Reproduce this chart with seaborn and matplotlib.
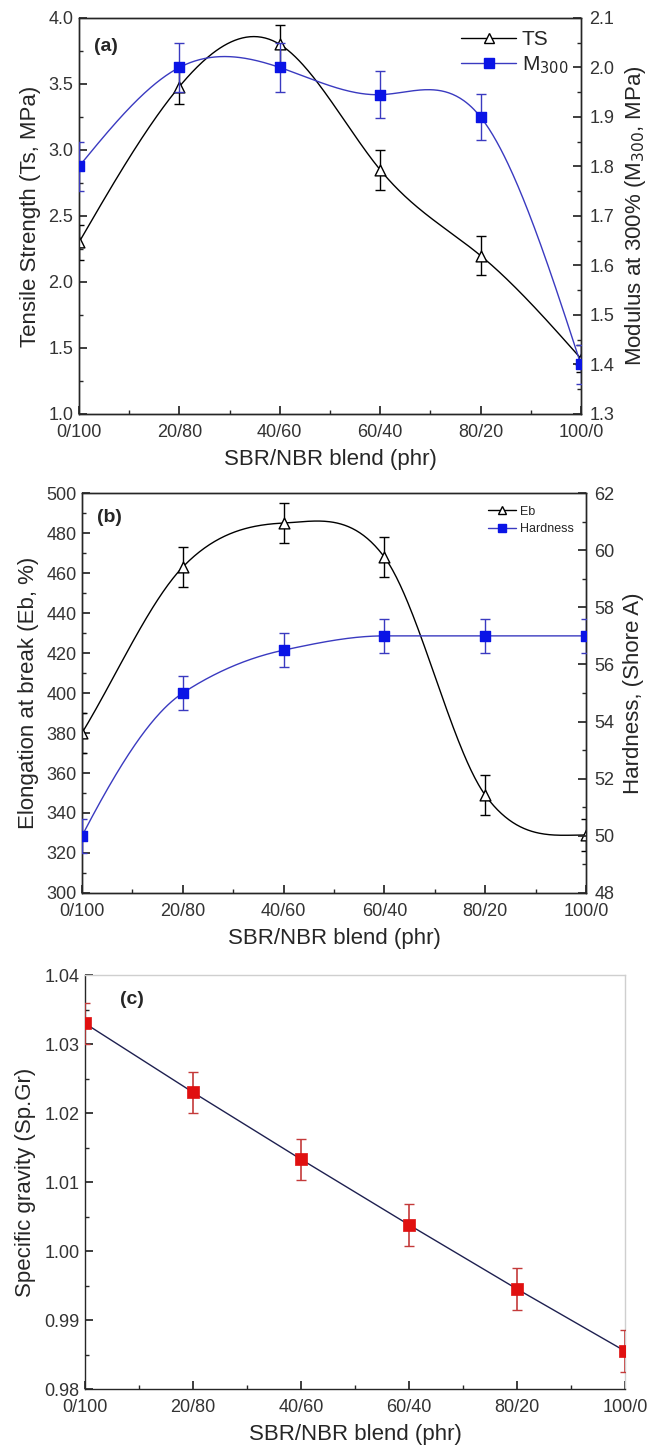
import numpy as np
import pandas as pd
import matplotlib
matplotlib.use("Agg")
import matplotlib.pyplot as plt
from matplotlib.lines import Line2D
from matplotlib.ticker import MultipleLocator, FormatStrFormatter
import seaborn as sns

# ---- data -------------------------------------------------------------
blend_pos = [0, 20, 40, 60, 80, 100]
blend_labels = ["0/100", "20/80", "40/60", "60/40", "80/20", "100/0"]

ts = [2.30, 3.48, 3.80, 2.85, 2.20, 1.42]
ts_err = [0.13, 0.13, 0.15, 0.15, 0.15, 0.10]
m300 = [1.80, 2.00, 2.00, 1.945, 1.90, 1.40]
m300_err = [0.05, 0.05, 0.05, 0.047, 0.047, 0.04]

eb = [380, 463, 485, 468, 349, 329]
eb_err = [10, 10, 10, 10, 10, 8]
hardness = [50.0, 55.0, 56.5, 57.0, 57.0, 57.0]
hardness_err = [0.6, 0.6, 0.6, 0.6, 0.6, 0.6]

spgr = [1.0330, 1.0230, 1.0133, 1.0038, 0.9945, 0.9855]
spgr_err = [0.003, 0.003, 0.003, 0.003, 0.003, 0.003]

# ---- style ------------------------------------------------------------
sns.set_theme(style="ticks")
plt.rcParams["font.family"] = ["Liberation Sans", "DejaVu Sans"]
plt.rcParams["xtick.direction"] = "in"
plt.rcParams["ytick.direction"] = "in"
plt.rcParams["axes.linewidth"] = 1.0

BLUE_LINE = "#3a3ac0"
BLUE = "#0a14e6"
RED = "#e01010"
RED_ERR = "#c43a3a"
NAVY = "#1e2050"
TEXT = "#333333"
TICK_FS = 13
LABEL_FS = 16


def hermite(x, y, m, num=400):
    """Evaluate a cubic Hermite curve with node slopes m."""
    x = np.asarray(x, float)
    y = np.asarray(y, float)
    h = np.diff(x)
    xs = np.linspace(x[0], x[-1], num)
    idx = np.clip(np.searchsorted(x, xs) - 1, 0, len(x) - 2)
    t = (xs - x[idx]) / h[idx]
    h00 = 2 * t ** 3 - 3 * t ** 2 + 1
    h10 = t ** 3 - 2 * t ** 2 + t
    h01 = -2 * t ** 3 + 3 * t ** 2
    h11 = t ** 3 - t ** 2
    ys = (h00 * y[idx] + h10 * h[idx] * m[idx]
          + h01 * y[idx + 1] + h11 * h[idx] * m[idx + 1])
    return pd.DataFrame({"x": xs, "y": ys})


def natural_spline(x, y, num=400):
    """Natural cubic spline through the points."""
    x = np.asarray(x, float)
    y = np.asarray(y, float)
    n = len(x)
    h = np.diff(x)
    A = np.zeros((n, n))
    b = np.zeros(n)
    A[0, 0] = A[-1, -1] = 1.0
    for i in range(1, n - 1):
        A[i, i - 1] = h[i - 1]
        A[i, i] = 2 * (h[i - 1] + h[i])
        A[i, i + 1] = h[i]
        b[i] = 6 * ((y[i + 1] - y[i]) / h[i] - (y[i] - y[i - 1]) / h[i - 1])
    M = np.linalg.solve(A, b)
    xs = np.linspace(x[0], x[-1], num)
    idx = np.clip(np.searchsorted(x, xs) - 1, 0, n - 2)
    x0, x1 = x[idx], x[idx + 1]
    hh = x1 - x0
    t0 = x1 - xs
    t1 = xs - x0
    ys = (M[idx] * t0 ** 3 / (6 * hh) + M[idx + 1] * t1 ** 3 / (6 * hh)
          + (y[idx] - M[idx] * hh ** 2 / 6) * t0 / hh
          + (y[idx + 1] - M[idx + 1] * hh ** 2 / 6) * t1 / hh)
    return pd.DataFrame({"x": xs, "y": ys})


def cardinal(x, y):
    """Catmull-Rom style curve, levelling off at the right end."""
    x = np.asarray(x, float)
    y = np.asarray(y, float)
    m = np.zeros(len(x))
    m[1:-1] = (y[2:] - y[:-2]) / (x[2:] - x[:-2])
    m[0] = (y[1] - y[0]) / (x[1] - x[0])
    m[-1] = 0.0
    return hermite(x, y, m)


def pchip(x, y):
    """Shape-preserving cubic Hermite curve through the points."""
    x = np.asarray(x, float)
    y = np.asarray(y, float)
    n = len(x)
    h = np.diff(x)
    d = np.diff(y) / h
    m = np.zeros(n)
    for k in range(1, n - 1):
        if d[k - 1] * d[k] > 0:
            w1 = 2 * h[k] + h[k - 1]
            w2 = h[k] + 2 * h[k - 1]
            m[k] = (w1 + w2) / (w1 / d[k - 1] + w2 / d[k])
    m[0] = ((2 * h[0] + h[1]) * d[0] - h[0] * d[1]) / (h[0] + h[1])
    if np.sign(m[0]) != np.sign(d[0]):
        m[0] = 0.0
    m[-1] = ((2 * h[-1] + h[-2]) * d[-1] - h[-1] * d[-2]) / (h[-1] + h[-2])
    if np.sign(m[-1]) != np.sign(d[-1]):
        m[-1] = 0.0
    return hermite(x, y, m)


def style_x(ax):
    ax.set_xlim(0, 100)
    ax.set_xticks(blend_pos)
    ax.set_xticklabels(blend_labels)
    ax.xaxis.set_minor_locator(MultipleLocator(10))
    ax.set_xlabel("SBR/NBR blend (phr)", fontsize=LABEL_FS, labelpad=6)
    ax.tick_params(axis="both", which="major", length=6, labelsize=TICK_FS,
                   pad=4, labelcolor=TEXT)
    ax.tick_params(axis="both", which="minor", length=3)
    ax.tick_params(axis="x", which="major", pad=7)


def style_right(ax):
    ax.tick_params(axis="y", which="major", length=6, labelsize=TICK_FS,
                   pad=6, labelcolor=TEXT)
    ax.tick_params(axis="y", which="minor", length=3)


def series(ax, y, err, line_color, mk_color, marker, face, msize, smooth):
    df = pd.DataFrame({"x": blend_pos, "y": y})
    sm = smooth(blend_pos, y)
    sns.lineplot(data=sm, x="x", y="y", ax=ax, color=line_color, lw=1.0,
                 estimator=None, sort=False)
    ax.errorbar(blend_pos, y, yerr=err, fmt="none", ecolor=line_color,
                elinewidth=1.0, capsize=3.5, capthick=1.0, zorder=3)
    sns.scatterplot(data=df, x="x", y="y", ax=ax, marker=marker, s=msize,
                    color=face, edgecolor=mk_color, linewidth=1.0, zorder=4)


fig = plt.figure(figsize=(6.57, 14.48), dpi=100)

# ---- (a) tensile strength and modulus ----------------------------------
ax1 = fig.add_axes([0.1202, 0.7141, 0.764, 0.2735])
ax1b = ax1.twinx()
series(ax1, ts, ts_err, "black", "black", "^", "white", 60, natural_spline)
series(ax1b, m300, m300_err, BLUE_LINE, BLUE, "s", BLUE, 60, natural_spline)
ax1.set_ylim(1.0, 4.0)
ax1.yaxis.set_major_locator(MultipleLocator(0.5))
ax1.yaxis.set_minor_locator(MultipleLocator(0.25))
ax1.yaxis.set_major_formatter(FormatStrFormatter("%.1f"))
ax1b.set_ylim(1.3, 2.1)
ax1b.yaxis.set_major_locator(MultipleLocator(0.1))
ax1b.yaxis.set_minor_locator(MultipleLocator(0.05))
ax1b.yaxis.set_major_formatter(FormatStrFormatter("%.1f"))
style_x(ax1)
style_right(ax1b)
ax1.set_ylabel("Tensile Strength (Ts, MPa)", fontsize=LABEL_FS, labelpad=5)
ax1b.set_ylabel("Modulus at 300% (M$_{300}$, MPa)", fontsize=LABEL_FS,
                labelpad=6)
ax1.text(0.03, 0.927, "(a)", transform=ax1.transAxes, fontsize=14,
         fontweight="bold", va="center")
h_a = [Line2D([], [], color="black", lw=1.0, marker="^", mfc="white",
              mec="black", ms=7),
       Line2D([], [], color=BLUE_LINE, lw=1.0, marker="s", mfc=BLUE,
              mec=BLUE, ms=7)]
ax1b.legend(h_a, ["TS", "M$_{300}$"], loc="upper right", frameon=False,
            fontsize=15, handlelength=2.6, handletextpad=0.3,
            borderaxespad=0.2, labelspacing=0.25,
            bbox_to_anchor=(1.0, 1.0))

# ---- (b) elongation and hardness --------------------------------------
ax2 = fig.add_axes([0.1248, 0.3833, 0.767, 0.2762])
ax2b = ax2.twinx()
series(ax2, eb, eb_err, "black", "black", "^", "white", 60, cardinal)
series(ax2b, hardness, hardness_err, BLUE_LINE, BLUE, "s", BLUE, 60, pchip)
ax2.set_ylim(300, 500)
ax2.yaxis.set_major_locator(MultipleLocator(20))
ax2.yaxis.set_minor_locator(MultipleLocator(10))
ax2b.set_ylim(48, 62)
ax2b.yaxis.set_major_locator(MultipleLocator(2))
ax2b.yaxis.set_minor_locator(MultipleLocator(1))
style_x(ax2)
style_right(ax2b)
ax2.set_ylabel("Elongation at break (Eb, %)", fontsize=LABEL_FS, labelpad=5)
ax2b.set_ylabel("Hardness, (Shore A)", fontsize=LABEL_FS, labelpad=6)
ax2.text(0.03, 0.94, "(b)", transform=ax2.transAxes, fontsize=14,
         fontweight="bold", va="center")
h_b = [Line2D([], [], color="black", lw=1.0, marker="^", mfc="white",
              mec="black", ms=5.5),
       Line2D([], [], color=BLUE_LINE, lw=1.0, marker="s", mfc=BLUE,
              mec=BLUE, ms=5.5)]
ax2b.legend(h_b, ["Eb", "Hardness"], loc="upper right", frameon=False,
            fontsize=9, handlelength=2.2, handletextpad=0.3,
            borderaxespad=0.6, labelspacing=0.45)

# ---- (c) specific gravity ---------------------------------------------
ax3 = fig.add_axes([0.1294, 0.0407, 0.822, 0.2859])
df_c = pd.DataFrame({"x": blend_pos, "y": spgr})
sns.lineplot(data=df_c, x="x", y="y", ax=ax3, color=NAVY, lw=1.0,
             estimator=None, sort=False)
ax3.errorbar(blend_pos, spgr, yerr=spgr_err, fmt="none", ecolor=RED_ERR,
             elinewidth=1.2, capsize=3.5, capthick=1.0, zorder=3)
sns.scatterplot(data=df_c, x="x", y="y", ax=ax3, marker="s", s=80,
                color=RED, edgecolor=RED, linewidth=0.5, zorder=4)
ax3.set_ylim(0.98, 1.04)
ax3.yaxis.set_major_locator(MultipleLocator(0.01))
ax3.yaxis.set_minor_locator(MultipleLocator(0.005))
ax3.yaxis.set_major_formatter(FormatStrFormatter("%.2f"))
style_x(ax3)
ax3.set_ylabel("Specific gravity (Sp.Gr)", fontsize=LABEL_FS, labelpad=6)
ax3.text(0.065, 0.94, "(c)", transform=ax3.transAxes, fontsize=14,
         fontweight="bold", va="center")
for side in ("top", "right"):
    ax3.spines[side].set_color("#cfcfcf")

fig.savefig("out.png", dpi=100)
